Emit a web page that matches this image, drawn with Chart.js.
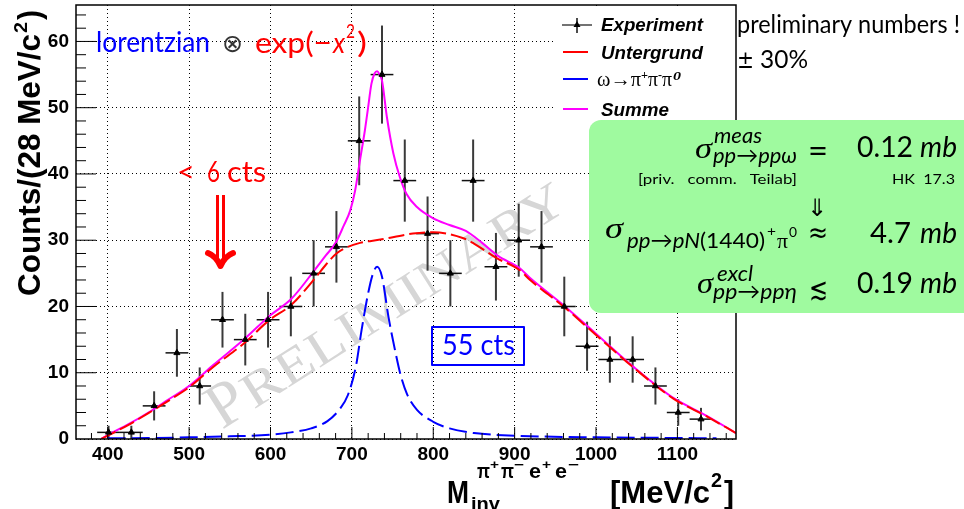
<!DOCTYPE html>
<html>
<head>
<meta charset="utf-8">
<script src="https://cdn.jsdelivr.net/npm/chart.js@4.4.1/dist/chart.umd.min.js"></script>
<style>
html, body { margin: 0; padding: 0; background: #fff; }
#wrap { width: 964px; height: 509px; }
</style>
</head>
<body>
<div id="wrap"><canvas id="chart" width="964" height="509"></canvas></div>
<script>
// histogram: bin centres (MeV/c^2), counts and their errors
const binCenters = [401, 429, 457, 485, 513, 541, 569, 597, 625, 653, 681, 709, 737, 765, 793, 821, 849, 877, 905, 933, 961, 989, 1017, 1045, 1073, 1101, 1129];
const counts = [1, 1, 5, 13, 8, 18, 15, 18, 20, 25, 29, 45, 55, 39, 31, 25, 39, 26, 30, 29, 20, 14, 12, 12, 8, 4, 3];
const countErr = [1, 1, 2.2, 3.6, 2.8, 4.2, 3.9, 4.2, 4.5, 5, 5.4, 6.7, 7.4, 6.2, 5.6, 5, 6.2, 5.1, 5.5, 5.4, 4.5, 3.7, 3.5, 3.5, 2.8, 2, 1.7];
const binHalfWidth = 14;

// fitted curves
const bgX = [392, 400, 425, 450, 475, 500, 530, 569, 598, 626, 653, 668, 681, 695, 710, 735, 775, 800, 837, 850, 878, 906, 919, 960, 1000, 1045, 1095, 1136, 1172];
const bgY = [0, 0.5, 2.1, 3.9, 5.8, 7.8, 10.9, 14.6, 17.9, 20.3, 24.0, 26.3, 28.0, 29.0, 29.6, 30.1, 31.0, 31.2, 30.3, 29.5, 27.3, 25.5, 24.0, 20.0, 15.7, 10.9, 6.1, 3.4, 0.9];

const omegaX = [400, 450, 500, 550, 600, 625, 650, 670, 685, 695, 705, 712, 720, 726, 731, 737, 745, 753, 760, 768, 780, 800, 820, 850, 900, 1000, 1100, 1148];
const omegaY = [0.1, 0.15, 0.25, 0.4, 0.65, 1.0, 1.6, 2.7, 4.5, 6.6, 11.0, 16.5, 22.0, 25.0, 26.0, 24.5, 18.4, 13.4, 9.6, 6.7, 4.4, 2.6, 1.6, 0.9, 0.5, 0.25, 0.15, 0.1];

const sumX = [392, 400, 425, 450, 475, 500, 530, 569, 598, 626, 653, 668, 680, 690, 698, 704, 710, 716, 720, 724, 728, 731, 734, 737, 743, 751, 759, 767, 780, 800, 820, 840, 860, 880, 906, 919, 960, 1000, 1045, 1095, 1136, 1172];
const sumY = [0, 0.6, 2.2, 4.0, 6.0, 8.0, 11.2, 15.2, 18.5, 21.2, 25.3, 27.7, 29.6, 32.2, 34.5, 37.5, 42.1, 46.6, 50.1, 53.6, 55.2, 55.5, 55.0, 54.1, 48.6, 43.1, 39.5, 37.0, 35.0, 33.3, 32.3, 31.4, 29.6, 27.6, 25.8, 24.3, 20.2, 15.9, 11.0, 6.2, 3.5, 0.9];

const xMin = 361, xMax = 1172;
const yMin = 0, yMax = 65.5;
const xTicks = [400, 500, 600, 700, 800, 900, 1000, 1100];
const yTicks = [0, 10, 20, 30, 40, 50, 60];

const pts = (xs, ys) => xs.map((x, i) => ({ x: x, y: ys[i] }));

// draw text left-aligned, squeezed/stretched to a given width
function fit(ctx, s, x, y, font, color, w) {
    ctx.font = font;
    ctx.fillStyle = color;
    ctx.textAlign = 'left';
    ctx.textBaseline = 'alphabetic';
    if (w) {
        const m = ctx.measureText(s).width;
        ctx.save();
        ctx.translate(x, y);
        ctx.scale(w / m, 1);
        ctx.fillText(s, 0, 0);
        ctx.restore();
    } else {
        ctx.fillText(s, x, y);
    }
}

const SANS = 'Lato';
const HELV = '"Liberation Sans"';
const SERIF = '"Liberation Serif"';

// watermark + error bars, under the curves
const underlay = {
    id: 'underlay',
    beforeDatasetsDraw(chart) {
        const { ctx, chartArea: a, scales: { x, y } } = chart;
        ctx.save();
        ctx.beginPath();
        ctx.rect(a.left, a.top, a.right - a.left, a.bottom - a.top);
        ctx.clip();
        // PRELIMINARY
        ctx.save();
        ctx.translate(222, 430);
        ctx.rotate(-32.5 * Math.PI / 180);
        ctx.fillStyle = '#d6d6d6';
        ctx.font = '64px ' + SERIF;
        ctx.fillText('P', 0, 0);
        const pw = ctx.measureText('P').width;
        fit(ctx, 'RELIMINARY', pw + 2, 0, '50px ' + SERIF, '#d6d6d6', 375);
        ctx.restore();

        binCenters.forEach((c, i) => {
            const px = x.getPixelForValue(c), py = y.getPixelForValue(counts[i]);
            ctx.strokeStyle = '#111';
            ctx.lineWidth = 1.5;
            ctx.beginPath();
            ctx.moveTo(x.getPixelForValue(c - binHalfWidth), py);
            ctx.lineTo(x.getPixelForValue(c + binHalfWidth), py);
            ctx.stroke();
            ctx.strokeStyle = '#3a3a3a';
            ctx.lineWidth = 2;
            ctx.beginPath();
            ctx.moveTo(px, y.getPixelForValue(Math.max(0, counts[i] - countErr[i])));
            ctx.lineTo(px, y.getPixelForValue(counts[i] + countErr[i]));
            ctx.stroke();
        });
        ctx.restore();
    }
};

// frame, inner ticks, legend, annotations
const overlay = {
    id: 'overlay',
    afterDraw(chart) {
        const { ctx, chartArea: a, scales: { x, y } } = chart;
        ctx.save();

        // legend box
        ctx.fillStyle = '#fff';
        ctx.fillRect(555, a.top + 1, a.right - 556, 118);
        ctx.lineCap = 'butt';
        // experiment marker
        ctx.strokeStyle = '#444'; ctx.lineWidth = 1.5;
        ctx.beginPath(); ctx.moveTo(562, 25); ctx.lineTo(592, 25); ctx.stroke();
        ctx.strokeStyle = '#111'; ctx.lineWidth = 1.5;
        ctx.beginPath(); ctx.moveTo(577, 18); ctx.lineTo(577, 33); ctx.stroke();
        ctx.fillStyle = '#000';
        ctx.beginPath(); ctx.moveTo(577, 21); ctx.lineTo(580.5, 27); ctx.lineTo(573.5, 27); ctx.closePath(); ctx.fill();
        const legLines = [['#ff0000', 52], ['#0000ff', 79], ['#ff00ff', 109]];
        legLines.forEach(l => {
            ctx.strokeStyle = l[0]; ctx.lineWidth = 2;
            ctx.beginPath(); ctx.moveTo(563, l[1]); ctx.lineTo(588, l[1]); ctx.stroke();
        });
        fit(ctx, 'Experiment', 601, 31, 'bold italic 18px ' + HELV, '#000', 102);
        fit(ctx, 'Untergrund', 601, 59, 'bold italic 18px ' + HELV, '#000', 102);
        fit(ctx, 'ω→π', 597, 86, '20px ' + SERIF, '#000', 44);
        fit(ctx, '+', 641, 79, 'bold 12px ' + SERIF, '#000', 7);
        fit(ctx, 'π', 648, 86, '20px ' + SERIF, '#000', 10);
        fit(ctx, '-', 658, 79, 'bold 12px ' + SERIF, '#000', 4);
        fit(ctx, 'π', 662, 86, '20px ' + SERIF, '#000', 10);
        fit(ctx, '0', 673, 80, 'bold italic 13px ' + SERIF, '#000', 8);
        fit(ctx, 'Summe', 601, 116, 'bold italic 18px ' + HELV, '#000', 68);

        // frame
        ctx.strokeStyle = '#000';
        ctx.lineWidth = 1.5;
        ctx.strokeRect(a.left, a.top, a.right - a.left, a.bottom - a.top);

        // inner ticks
        ctx.lineWidth = 1;
        for (let v = 380; v <= xMax; v += 20) {
            const px = x.getPixelForValue(v);
            const len = v % 100 === 0 ? 12 : 6;
            ctx.beginPath(); ctx.moveTo(px, a.bottom); ctx.lineTo(px, a.bottom - len); ctx.stroke();
        }
        for (let v = 2; v <= yMax; v += 2) {
            const py = y.getPixelForValue(v);
            const len = v % 10 === 0 ? 20 : 10;
            ctx.beginPath(); ctx.moveTo(a.left, py); ctx.lineTo(a.left + len, py); ctx.stroke();
        }

        // y axis title
        ctx.save();
        ctx.translate(40, 296);
        ctx.rotate(-Math.PI / 2);
        fit(ctx, 'Counts/(28 MeV/c', 0, 0, 'bold 31px ' + HELV, '#000', 262);
        fit(ctx, '2', 263, -13, 'bold 19px ' + HELV, '#000', 11);
        fit(ctx, ')', 276, 0, 'bold 31px ' + HELV, '#000', 10);
        ctx.restore();

        // x axis title
        fit(ctx, 'M', 447, 503, 'bold 32px ' + HELV, '#000', 22);
        fit(ctx, 'inv', 471, 510, 'bold 19px ' + HELV, '#000', 29);
        fit(ctx, 'π', 477, 478, 'bold 20px ' + HELV, '#000', 13);
        fit(ctx, '+', 490, 469, 'bold 13px ' + HELV, '#000', 9);
        fit(ctx, 'π', 501, 478, 'bold 20px ' + HELV, '#000', 13);
        fit(ctx, '−', 514, 469, 'bold 13px ' + HELV, '#000', 10);
        fit(ctx, 'e', 529, 478, 'bold 20px ' + HELV, '#000', 12);
        fit(ctx, '+', 542, 469, 'bold 13px ' + HELV, '#000', 9);
        fit(ctx, 'e', 555, 478, 'bold 20px ' + HELV, '#000', 12);
        fit(ctx, '−', 568, 469, 'bold 13px ' + HELV, '#000', 11);
        fit(ctx, '[MeV/c', 610, 503, 'bold 32px ' + HELV, '#000', 100);
        fit(ctx, '2', 711, 487, 'bold 20px ' + HELV, '#000', 11);
        fit(ctx, ']', 724, 503, 'bold 32px ' + HELV, '#000', 10);

        // formula at top left
        fit(ctx, 'lorentzian', 96, 52, '29px ' + SANS, '#0000ff', 114);
        fit(ctx, '⊗', 222, 52, '25px "DejaVu Sans"', '#333', 21);
        fit(ctx, 'exp(−', 255, 53, '29px ' + SANS, '#ff0000', 77);
        fit(ctx, 'x', 333, 53, 'italic 29px ' + SANS, '#ff0000', 12);
        fit(ctx, '2', 346, 38, '19px ' + SANS, '#ff0000', 9);
        fit(ctx, ')', 357, 53, '29px ' + SANS, '#ff0000', 10);

        // < 6 cts with arrow
        fit(ctx, '<', 177, 182, '28px ' + SANS, '#ff0000', 18);
        fit(ctx, '6', 207, 182, '28px ' + SANS, '#ff0000', 13);
        fit(ctx, 'cts', 227, 182, '28px ' + SANS, '#ff0000', 39);
        ctx.strokeStyle = '#ff0000';
        ctx.lineWidth = 3;
        ctx.beginPath();
        ctx.moveTo(217.5, 195); ctx.lineTo(217.5, 262);
        ctx.moveTo(223.5, 195); ctx.lineTo(223.5, 262);
        ctx.stroke();
        ctx.lineWidth = 6;
        ctx.lineJoin = 'round';
        ctx.lineCap = 'round';
        ctx.beginPath();
        ctx.moveTo(208, 253);
        ctx.quadraticCurveTo(216, 256, 220.5, 266);
        ctx.quadraticCurveTo(225, 256, 233, 253);
        ctx.stroke();
        ctx.lineCap = 'butt';

        // 55 cts box
        ctx.strokeStyle = '#0000ff';
        ctx.lineWidth = 2;
        ctx.strokeRect(432, 327, 92, 38);
        fit(ctx, '55 cts', 442, 355, '28px ' + SANS, '#0000ff', 73);

        // right-hand notes
        fit(ctx, 'preliminary numbers !', 737, 33, '25px ' + SANS, '#000', 223);
        fit(ctx, '±', 737, 68, '24px "DejaVu Sans"', '#000', 17);
        fit(ctx, '30%', 760, 68, '25px ' + SANS, '#000', 48);

        // green result box
        ctx.fillStyle = '#9ffa9f';
        ctx.beginPath();
        ctx.roundRect(589, 120, 400, 193, 12);
        ctx.fill();
        const k = '#000';
        const mi = 'italic 22px ' + SANS;
        fit(ctx, 'σ', 695, 158, 'italic 30px ' + SERIF, k, 17);
        fit(ctx, 'meas', 714, 143, mi, k, 48);
        fit(ctx, 'pp→ppω', 713, 163, mi, k, 84);
        fit(ctx, '=', 808, 160, '28px "DejaVu Sans"', k, 20);
        fit(ctx, '0.12', 857, 157, '28px ' + SANS, k, 56);
        fit(ctx, 'mb', 920, 157, 'italic 28px ' + SANS, k, 37);
        fit(ctx, '[priv.   comm.   Teilab]', 638, 184, '14px ' + SANS, k, 159);
        fit(ctx, 'HK  17.3', 892, 184, '14px ' + SANS, k, 63);
        fit(ctx, '⇓', 807, 216, '24px "DejaVu Sans"', k, 20);
        fit(ctx, 'σ', 605, 238, 'italic 30px ' + SERIF, k, 18);
        fit(ctx, 'pp→pN', 627, 248, mi, k, 73);
        fit(ctx, '(1440)', 700, 248, '22px ' + SANS, k, 65);
        fit(ctx, '+', 767, 236, '14px ' + SANS, k, 9);
        fit(ctx, 'π', 777, 248, '22px ' + SERIF, k, 11);
        fit(ctx, '0', 789, 237, '14px ' + SANS, k, 8);
        fit(ctx, '≈', 808, 242, '28px "DejaVu Sans"', k, 20);
        fit(ctx, '4.7', 870, 243, '28px ' + SANS, k, 41);
        fit(ctx, 'mb', 920, 243, 'italic 28px ' + SANS, k, 37);
        fit(ctx, 'σ', 697, 293, 'italic 30px ' + SERIF, k, 16);
        fit(ctx, 'excl', 717, 281, mi, k, 36);
        fit(ctx, 'pp→ppη', 713, 299, mi, k, 84);
        fit(ctx, '≲', 809, 299, '30px "DejaVu Sans"', k, 19);
        fit(ctx, '0.19', 857, 293, '28px ' + SANS, k, 56);
        fit(ctx, 'mb', 920, 293, 'italic 28px ' + SANS, k, 37);

        ctx.restore();
    }
};

const tickFont = { family: 'Liberation Sans', size: 19, weight: 'bold' };

const ctx = document.getElementById('chart').getContext('2d');
const chart = new Chart(ctx, {
    type: 'scatter',
    data: {
        datasets: [{
            label: 'Experiment',
            data: pts(binCenters, counts),
            pointStyle: 'triangle',
            pointRadius: 3.5,
            backgroundColor: '#000',
            borderColor: '#000',
            borderWidth: 1
        }, {
            label: 'omega',
            type: 'line',
            data: pts(omegaX, omegaY),
            borderColor: '#0000ff',
            borderWidth: 2,
            borderDash: [18, 6],
            pointRadius: 0,
            cubicInterpolationMode: 'monotone',
            fill: false
        }, {
            label: 'Untergrund',
            type: 'line',
            data: pts(bgX, bgY),
            borderColor: '#ff0000',
            borderWidth: 2,
            borderDash: [16, 5],
            pointRadius: 0,
            cubicInterpolationMode: 'monotone',
            fill: false
        }, {
            label: 'Summe',
            type: 'line',
            data: pts(sumX, sumY),
            borderColor: '#ff00ff',
            borderWidth: 2,
            pointRadius: 0,
            cubicInterpolationMode: 'monotone',
            fill: false
        }]
    },
    options: {
        responsive: false,
        animation: false,
        devicePixelRatio: 1,
        layout: { padding: { left: 0, top: 5, right: 228, bottom: 0 } },
        plugins: { legend: { display: false }, tooltip: { enabled: false } },
        scales: {
            x: {
                type: 'linear',
                min: xMin,
                max: xMax,
                afterBuildTicks: s => { s.ticks = xTicks.map(v => ({ value: v })); },
                afterFit: s => { s.height = 70; s.paddingLeft = 0; s.paddingRight = 0; },
                grid: { color: '#000', lineWidth: 1, drawTicks: false },
                border: { display: false, dash: [1, 3] },
                ticks: { padding: 4, color: '#000', font: tickFont, callback: v => String(v) }
            },
            y: {
                type: 'linear',
                min: yMin,
                max: yMax,
                afterBuildTicks: s => { s.ticks = yTicks.map(v => ({ value: v })); },
                afterFit: s => { s.width = 76; s.paddingTop = 0; s.paddingBottom = 0; },
                grid: { color: '#000', lineWidth: 1, drawTicks: false },
                border: { display: false, dash: [1, 3] },
                ticks: { padding: 7, color: '#000', font: tickFont, callback: v => String(v) }
            }
        }
    },
    plugins: [underlay, overlay]
});
</script>
</body>
</html>
